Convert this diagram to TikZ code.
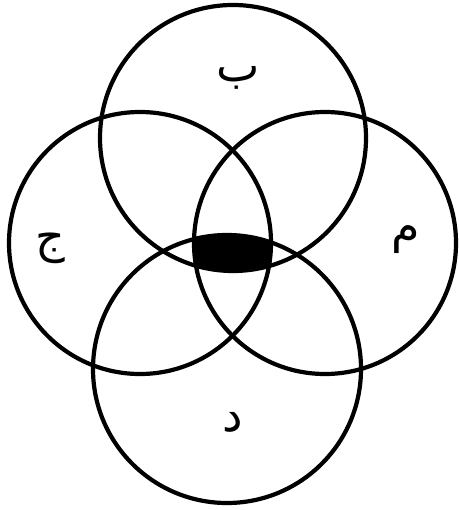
\documentclass[tikz,border=0pt]{standalone}
\usepackage{fontspec}
\newfontfamily\arabicfont[Script=Arabic]{DejaVu Sans}
\TeXXeTstate=1
\begin{document}
\begin{tikzpicture}[
    x=1pt, y=-1pt,
    ring/.style={draw, line width=4.2pt},
    letter/.style={font=\arabicfont\fontsize{46}{46}\selectfont}
  ]
  \useasboundingbox (0,0) rectangle (458,510);

  \coordinate (ct) at (233,138);
  \coordinate (cl) at (140,243);
  \coordinate (cr) at (325,243);
  \coordinate (cb) at (227,369);

  % common part of the four circles
  \begin{scope}
    \clip (ct) circle (133);
    \clip (cl) circle (131);
    \clip (cr) circle (131);
    \fill[black] (cb) circle (134);
  \end{scope}

  \draw[ring] (ct) circle (133);
  \draw[ring] (cl) circle (131);
  \draw[ring] (cr) circle (131);
  \draw[ring] (cb) circle (134);

  % letters
  \node[letter] (lt) at (238,78) {\beginR ب\endR};
  \node[letter] (ll) at (50,248) {\beginR ج\endR};
  \node[letter] (lr) at (406,240) {\beginR م\endR};
  \node[letter] (lb) at (233,422) {\beginR د\endR};
\end{tikzpicture}
\end{document}
